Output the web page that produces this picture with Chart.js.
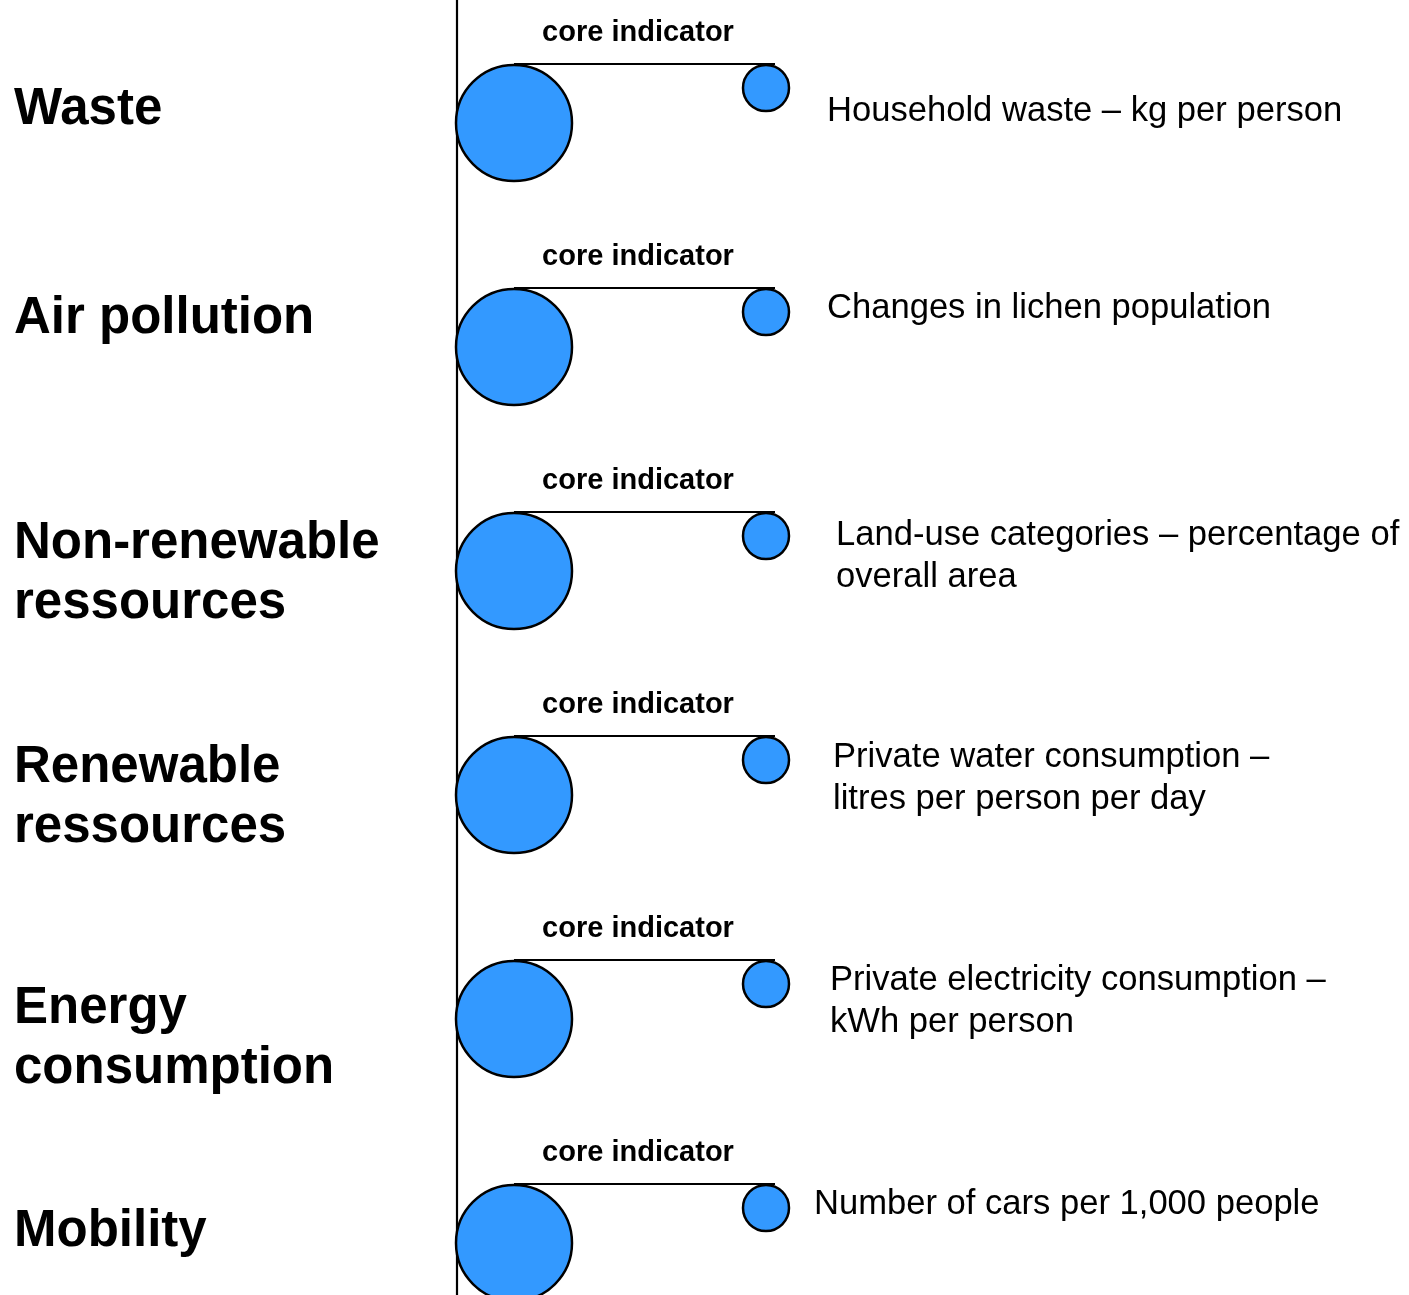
<!DOCTYPE html>
<html>
<head>
<meta charset="utf-8">
<script src="https://cdn.jsdelivr.net/npm/chart.js@4.4.1/dist/chart.umd.min.js"></script>
<style>
  html, body { margin: 0; padding: 0; background: #fff; }
  canvas { display: block; }
</style>
</head>
<body>
<canvas id="diagram" width="1409" height="1295"></canvas>
<script>
// rows of the diagram (themes) and their core indicators
const categories = [
  ['Waste'],
  ['Air pollution'],
  ['Non-renewable', 'ressources'],
  ['Renewable', 'ressources'],
  ['Energy', 'consumption'],
  ['Mobility']
];
const indicators = [
  ['Household waste \u2013 kg per person'],
  ['Changes in lichen population'],
  ['Land-use categories \u2013 percentage of', 'overall area'],
  ['Private water consumption \u2013', 'litres per person per day'],
  ['Private electricity consumption \u2013', 'kWh per person'],
  ['Number of cars per 1,000 people']
];
const coreLabel = 'core indicator';

// layout (pixels)
const W = 1409, H = 1295;
const rowGap = 224;       // px between rows
const firstRow = 123;     // px centre of first big circle
const bigX = 514, smallX = 766, unit = smallX - bigX;
const bigR = 58, smallR = 23;
const smallLift = 35, lineLift = 59, axisX = 457, lineEnd = 775;
const labelX = 14;
const labelShift = [-13, -28, 3, 3, 20, -11];
const descX = [827, 827, 836, 833, 830, 814];
const descShift = [-12, -39, -15, -17, -18, -39];

const toRow = px => px / rowGap;
const toCol = px => px / unit;

const bigPoints = categories.map((c, i) => ({ x: 0, y: i, r: bigR }));
const smallPoints = categories.map((c, i) => ({ x: 1, y: i - toRow(smallLift), r: smallR }));

const connectors = categories.map((c, i) => ({
  type: 'line',
  data: [{ x: 0, y: i - toRow(lineLift) }, { x: toCol(lineEnd - bigX), y: i - toRow(lineLift) }],
  borderColor: '#000', borderWidth: 2.2, pointRadius: 0, order: 3
}));

const textPlugin = {
  id: 'texts',
  afterDatasetsDraw(chart) {
    const ctx = chart.ctx, xs = chart.scales.x, ys = chart.scales.y;
    ctx.save();
    ctx.fillStyle = '#000';
    ctx.textBaseline = 'middle';
    categories.forEach((lines, i) => {
      const cy = ys.getPixelForValue(i);
      // theme label
      ctx.font = 'bold 51px "Liberation Sans", Arial, sans-serif';
      ctx.textAlign = 'left';
      const lh = 60;
      lines.forEach((t, k) => {
        ctx.fillText(t, labelX, cy + labelShift[i] + (k - (lines.length - 1) / 2) * lh);
      });
      // core indicator heading
      ctx.font = 'bold 29px "Liberation Sans", Arial, sans-serif';
      ctx.textAlign = 'center';
      ctx.fillText(coreLabel, xs.getPixelForValue(toCol(638 - bigX)), cy - 90);
      // indicator description
      ctx.font = '34.6px "Liberation Sans", Arial, sans-serif';
      ctx.textAlign = 'left';
      const d = indicators[i];
      d.forEach((t, k) => {
        ctx.fillText(t, descX[i], cy + descShift[i] + (k - (d.length - 1) / 2) * 42);
      });
    });
    ctx.restore();
  }
};

new Chart(document.getElementById('diagram'), {
  type: 'bubble',
  data: {
    datasets: [
      {
        data: bigPoints,
        backgroundColor: '#3399ff', borderColor: '#000', borderWidth: 2.5, order: 1
      },
      {
        data: smallPoints,
        backgroundColor: '#3399ff', borderColor: '#000', borderWidth: 2.5, order: 1
      },
      ...connectors,
      {
        type: 'line',
        data: [{ x: toCol(axisX - bigX), y: -1 }, { x: toCol(axisX - bigX), y: categories.length + 1 }],
        borderColor: '#000', borderWidth: 2.2, pointRadius: 0, order: 4
      }
    ]
  },
  options: {
    responsive: false,
    animation: false,
    devicePixelRatio: 1,
    layout: { padding: 0, autoPadding: false },
    plugins: { legend: { display: false }, tooltip: { enabled: false } },
    scales: {
      x: { type: 'linear', display: false, min: toCol(-bigX), max: toCol(W - bigX) },
      y: { type: 'linear', display: false, reverse: true,
           min: toRow(-firstRow), max: toRow(H - firstRow) }
    }
  },
  plugins: [textPlugin]
});
</script>
</body>
</html>
